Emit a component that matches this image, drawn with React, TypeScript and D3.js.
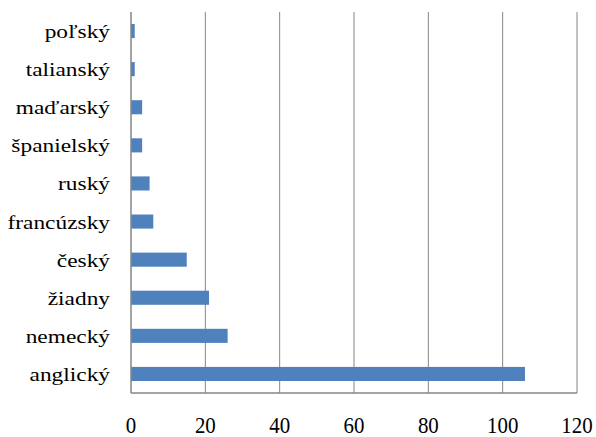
import React from "react";
import * as d3 from "d3";

const categories = ["anglický", "nemecký", "žiadny", "český", "francúzsky", "ruský", "španielský", "maďarský", "talianský", "poľský"];
const values = [106, 26, 21, 15, 6, 5, 3, 3, 1, 1];
const xTicks = [0, 20, 40, 60, 80, 100, 120];

const W = 596, H = 437;
const left = 131, right = 577, top = 12, bottom = 393;

export default function App() {
  const x = d3.scaleLinear().domain([0, 120]).range([left, right]);
  const order = [...categories].reverse();
  const y = d3.scaleBand().domain(order).range([top, bottom]).paddingInner(0.63).paddingOuter(0.315);
  const font = "Liberation Serif";
  return (
    <svg width={W} height={H} style={{ position: "absolute", left: 0, top: 0, background: "#fff" }}>
      {xTicks.slice(1).map((t) => (
        <line key={t} x1={x(t)} x2={x(t)} y1={top} y2={bottom} stroke="#868686" strokeWidth={1} />
      ))}
      {categories.map((c, i) => (
        <rect key={c} x={x(0)} y={y(c)!} width={x(values[i]) - x(0)} height={y.bandwidth()} fill="#4F81BD" />
      ))}
      <line x1={x(0)} x2={x(0)} y1={top} y2={bottom} stroke="#868686" strokeWidth={1.5} />
      <line x1={x(0)} x2={x(120)} y1={bottom} y2={bottom} stroke="#868686" strokeWidth={1.5} />
      {categories.map((c) => (
        <text
          key={c}
          transform={`translate(${left - 21},${y(c)! + y.bandwidth() / 2 + 7}) scale(1.23,1.03)`}
          textAnchor="end"
          fontFamily={font}
          fontSize={19}
          fill="#000"
        >
          {c}
        </text>
      ))}
      {xTicks.map((t) => (
        <text
          key={t}
          transform={`translate(${x(t)},433) scale(1.1,1.22)`}
          textAnchor="middle"
          fontFamily={font}
          fontSize={19}
          fill="#000"
        >
          {t}
        </text>
      ))}
    </svg>
  );
}
